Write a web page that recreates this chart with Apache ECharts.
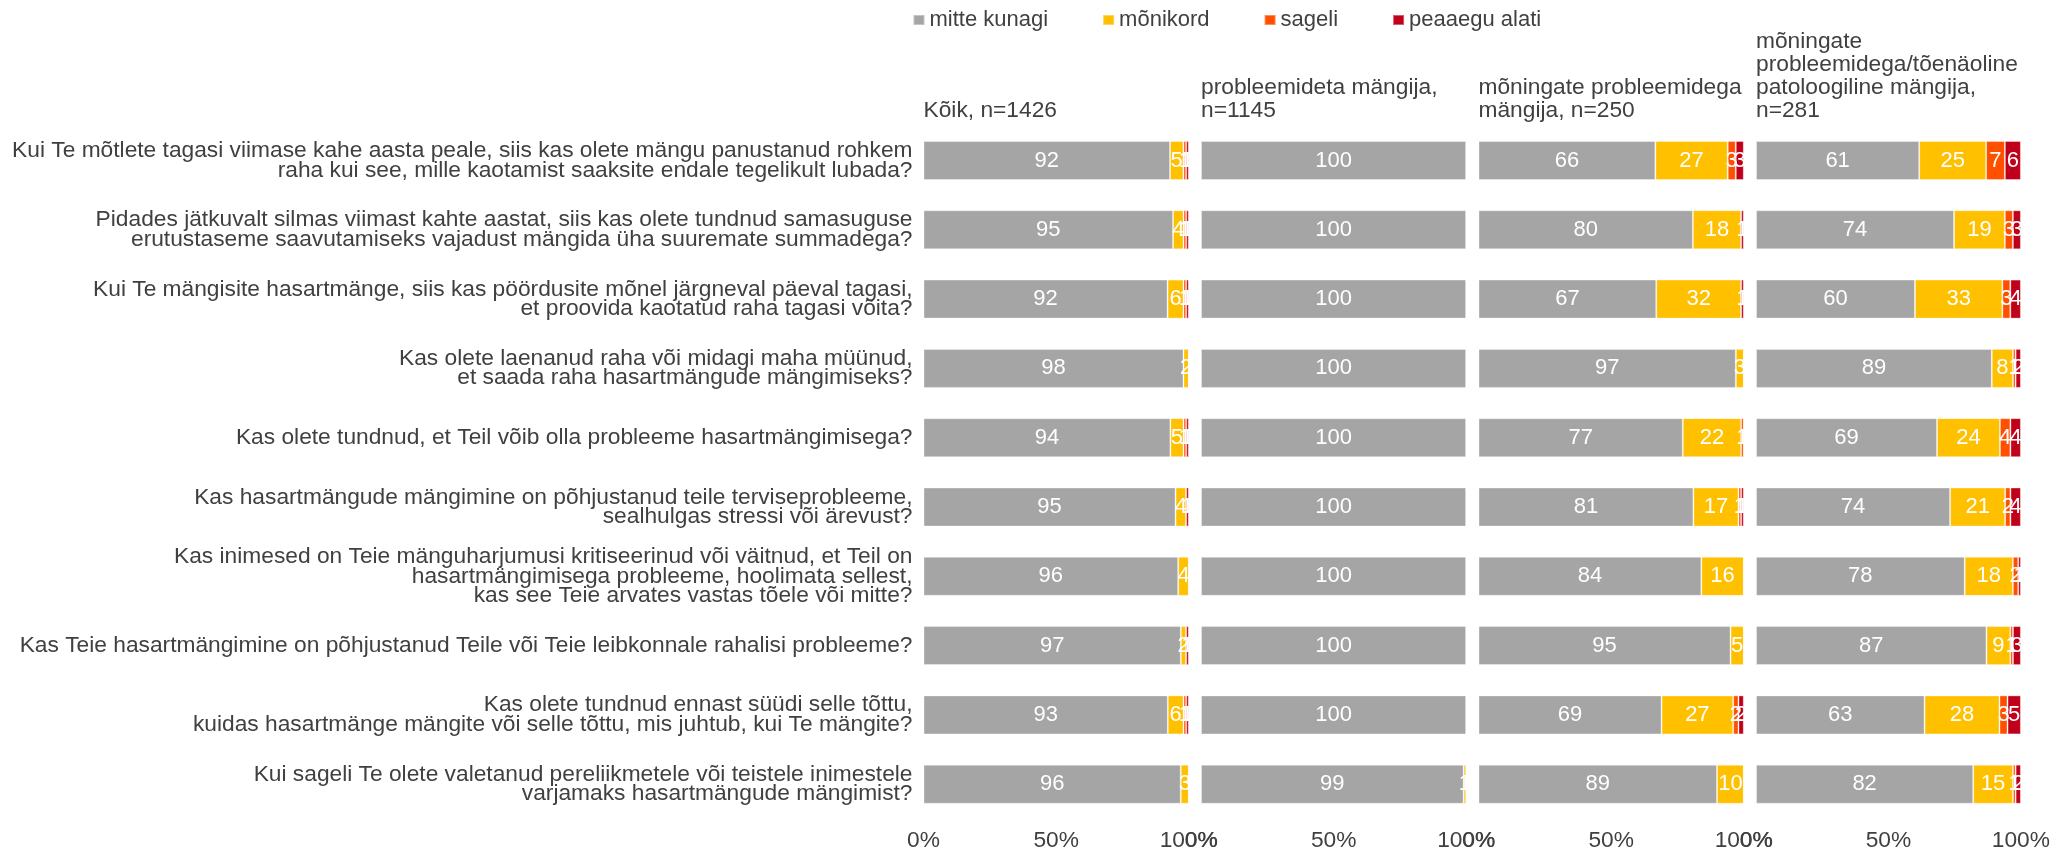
<!DOCTYPE html>
<html>
<head>
<meta charset="utf-8">
<script src="https://cdn.jsdelivr.net/npm/echarts@6/dist/echarts.min.js"></script>
<style>
html,body{margin:0;padding:0;background:#fff;}
#chart{position:absolute;left:0;top:0;width:2053px;height:856px;}
</style>
</head>
<body>
<div id="chart"></div>
<script>
// ---------- DATA ----------
const categories = [
  "Kui Te mõtlete tagasi viimase kahe aasta peale, siis kas olete mängu panustanud rohkem\nraha kui see, mille kaotamist saaksite endale tegelikult lubada?",
  "Pidades jätkuvalt silmas viimast kahte aastat, siis kas olete tundnud samasuguse\nerutustaseme saavutamiseks vajadust mängida üha suuremate summadega?",
  "Kui Te mängisite hasartmänge, siis kas pöördusite mõnel järgneval päeval tagasi,\net proovida kaotatud raha tagasi võita?",
  "Kas olete laenanud raha või midagi maha müünud,\net saada raha hasartmängude mängimiseks?",
  "Kas olete tundnud, et Teil võib olla probleeme hasartmängimisega?",
  "Kas hasartmängude mängimine on põhjustanud teile terviseprobleeme,\nsealhulgas stressi või ärevust?",
  "Kas inimesed on Teie mänguharjumusi kritiseerinud või väitnud, et Teil on\nhasartmängimisega probleeme, hoolimata sellest,\nkas see Teie arvates vastas tõele või mitte?",
  "Kas Teie hasartmängimine on põhjustanud Teile või Teie leibkonnale rahalisi probleeme?",
  "Kas olete tundnud ennast süüdi selle tõttu,\nkuidas hasartmänge mängite või selle tõttu, mis juhtub, kui Te mängite?",
  "Kui sageli Te olete valetanud pereliikmetele või teistele inimestele\nvarjamaks hasartmängude mängimist?"
];
const seriesNames = ["mitte kunagi", "mõnikord", "sageli", "peaaegu alati"];
const panelTitles = [
  "Kõik, n=1426",
  "probleemideta mängija,\nn=1145",
  "mõningate probleemidega\nmängija, n=250",
  "mõningate\nprobleemidega/tõenäoline\npatoloogiline mängija,\nn=281"
];
const xTicks = [0, 50, 100];

// Panel 1: Kõik
const p1_mitte    = [92, 95, 92, 98, 94, 95, 96, 97, 93, 96];
const p1_monikord = [5, 4, 6, 2, 5, 4, 4, 2, 6, 3];
const p1_sageli   = [1, 1, 1, 0, 1, 0, 0, 0, 1, 0];
const p1_alati    = [1, 1, 1, 0, 1, 1, 0, 1, 1, 0];
// Panel 2: probleemideta mängija
const p2_mitte    = [100, 100, 100, 100, 100, 100, 100, 100, 100, 99];
const p2_monikord = [0, 0, 0, 0, 0, 0, 0, 0, 0, 1];
const p2_sageli   = [0, 0, 0, 0, 0, 0, 0, 0, 0, 0];
const p2_alati    = [0, 0, 0, 0, 0, 0, 0, 0, 0, 0];
// Panel 3: mõningate probleemidega mängija
const p3_mitte    = [66, 80, 67, 97, 77, 81, 84, 95, 69, 89];
const p3_monikord = [27, 18, 32, 3, 22, 17, 16, 5, 27, 10];
const p3_sageli   = [3, 0, 0, 0, 1, 1, 0, 0, 2, 0];
const p3_alati    = [3, 1, 1, 0, 0, 1, 0, 0, 2, 0];
// Panel 4: mõningate probleemidega/tõenäoline patoloogiline mängija
const p4_mitte    = [61, 74, 60, 89, 69, 74, 78, 87, 63, 82];
const p4_monikord = [25, 19, 33, 8, 24, 21, 18, 9, 28, 15];
const p4_sageli   = [7, 3, 3, 1, 4, 2, 2, 1, 3, 1];
const p4_alati    = [6, 3, 4, 2, 4, 4, 1, 3, 5, 2];

const panels = [
  [p1_mitte, p1_monikord, p1_sageli, p1_alati],
  [p2_mitte, p2_monikord, p2_sageli, p2_alati],
  [p3_mitte, p3_monikord, p3_sageli, p3_alati],
  [p4_mitte, p4_monikord, p4_sageli, p4_alati]
];

// ---------- STYLE ----------
const colors = ["#A5A5A5", "#FFC000", "#FF5000", "#C0001A"];
const FONT = "'Liberation Sans', Arial, sans-serif";
const TEXT = "#404040";
const gridLefts = [923.5, 1201, 1478.5, 1756];
const gridWidth = 265.3;
const gridTop = 125.85;
const gridHeight = 693;

const grids = [], xAxes = [], yAxes = [], series = [], titles = [];
panels.forEach((panel, pi) => {
  grids.push({left: gridLefts[pi], top: gridTop, width: gridWidth, height: gridHeight, containLabel: false});
  xAxes.push({
    type: 'value', gridIndex: pi, min: xTicks[0], max: xTicks[xTicks.length - 1],
    interval: xTicks[1] - xTicks[0],
    axisLine: {show: false}, axisTick: {show: false}, splitLine: {show: false},
    axisLabel: {formatter: '{value}%', color: TEXT, fontSize: 22.75, fontFamily: FONT, margin: 10}
  });
  yAxes.push({
    type: 'category', gridIndex: pi, data: categories, inverse: true,
    axisLine: {show: false}, axisTick: {show: false}, splitLine: {show: false},
    axisLabel: {show: pi === 0, color: TEXT, fontSize: 22.75, lineHeight: 19.5, fontFamily: FONT, margin: 11, align: 'right'}
  });
  titles.push({
    text: panelTitles[pi], left: gridLefts[pi], bottom: 856 - 122, padding: 0,
    textStyle: {color: TEXT, fontSize: 22.75, lineHeight: 22.8, fontWeight: 'normal', fontFamily: FONT}
  });
  const sums = categories.map((c, i) => panel.reduce((s, arr) => s + arr[i], 0));
  panel.forEach((arr, si) => {
    series.push({
      name: seriesNames[si], type: 'bar', stack: 'p' + pi,
      xAxisIndex: pi, yAxisIndex: pi,
      barCategoryGap: '43.7%',
      itemStyle: {color: colors[si], borderColor: 'rgba(255,255,255,0.35)', borderWidth: 1},
      label: {
        show: true, position: 'inside', color: '#fff', fontSize: 22, fontFamily: FONT,
        formatter: p => (p.data.raw > 0 ? String(p.data.raw) : '')
      },
      emphasis: {disabled: true},
      data: arr.map((v, i) => ({value: v / sums[i] * 100, raw: v}))
    });
  });
});

const chart = echarts.init(document.getElementById('chart'), null, {renderer: 'canvas'});
chart.setOption({
  animation: false,
  backgroundColor: '#fff',
  title: titles,
  legend: {
    data: seriesNames, left: 912.5, top: 9, padding: 0,
    itemWidth: 11, itemHeight: 10, itemGap: 54, icon: 'rect',
    textStyle: {color: TEXT, fontSize: 22, fontFamily: FONT}
  },
  grid: grids,
  xAxis: xAxes,
  yAxis: yAxes,
  series: series
});
</script>
</body>
</html>
